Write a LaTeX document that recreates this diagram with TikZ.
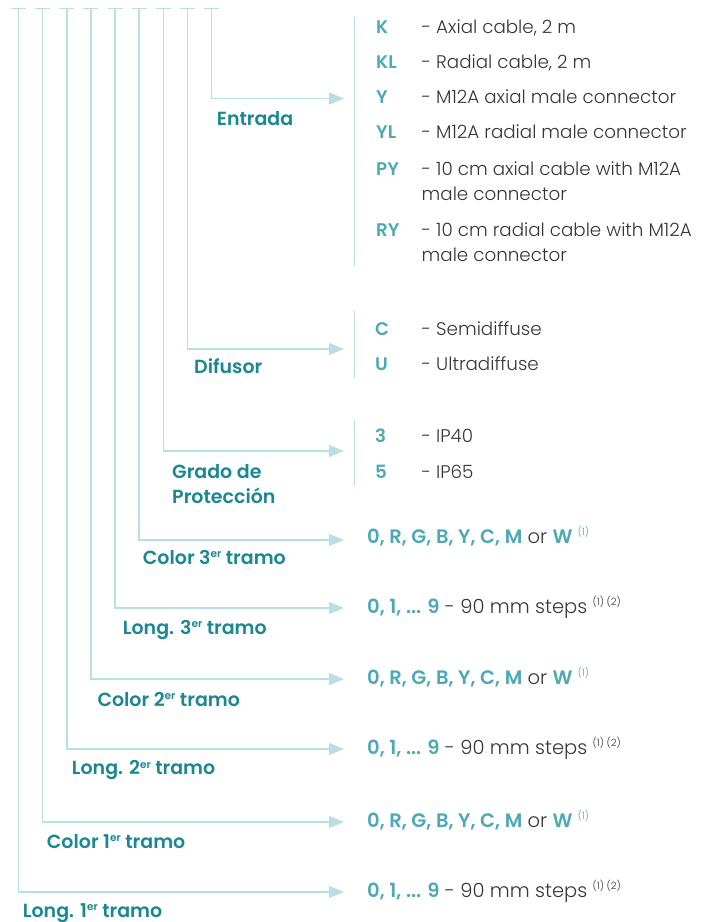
\documentclass[tikz,border=0pt]{standalone}
\usepackage{fontspec}
\setmainfont{Poppins Light}[BoldFont={Poppins SemiBold}]
\usetikzlibrary{arrows.meta,calc}
\definecolor{linecol}{HTML}{B7DFE4}
\definecolor{labelcol}{HTML}{1A8792}
\definecolor{codecol}{HTML}{4DA9B6}
\definecolor{textcol}{HTML}{363636}
\newcommand\ordsup[1]{\raisebox{6.5pt}{\fontsize{10.5}{10.5}\selectfont #1}}
\newcommand\notesup[1]{\raisebox{8pt}{\fontsize{10}{10}\selectfont #1}}
\newcommand\twolines[2]{\begin{tabular}[t]{@{}l@{}}#1\\#2\end{tabular}}

\begin{document}
\begin{tikzpicture}[x=1pt, y=-1pt,
  link/.style={draw=linecol, line width=1.3pt},
  linkarrow/.style={link, -{Triangle[length=15pt,width=12pt]}},
  lbl/.style={anchor=base west, inner sep=0pt, text=labelcol, font=\fontsize{19}{25}\selectfont\bfseries},
  code/.style={anchor=base west, inner sep=0pt, text=codecol, font=\fontsize{18.3}{25}\selectfont\bfseries},
  desc/.style={anchor=base west, inner sep=0pt, text=textcol, font=\fontsize{18.3}{25}\selectfont},
  opt/.style={anchor=base west, inner sep=0pt, text=textcol, font=\fontsize{19.5}{24}\selectfont}]
\useasboundingbox (0,0) rectangle (704,922);

% stems with their dash on top, one per field
\foreach \i/\y in {0/892,1/822,2/749,3/679,4/608,5/540,6/451,7/349,8/98.5} {
  \coordinate (top\i) at ({18.7+24.08*\i},8.7);
  \coordinate (tip\i) at (344,\y);
  \draw[link] ($(top\i)+(-7.5,0)$) -- ($(top\i)+(7.5,0)$);
  \draw[linkarrow] (top\i) |- (tip\i);
}

% field names
\node[lbl] (entrada) at (216.7,125.5) {Entrada};
\node[lbl] (difusor) at (194,373) {Difusor};
\node[lbl] (grado) at (172,478) {\twolines{Grado de}{Protección}};
\node[lbl] (color3) at (142.7,564) {Color 3\ordsup{er} tramo};
\node[lbl] (long3) at (122.7,634) {Long. 3\ordsup{er} tramo};
\node[lbl] (color2) at (97.3,706) {Color 2\ordsup{er} tramo};
\node[lbl] (long2) at (71.7,774.5) {Long. 2\ordsup{er} tramo};
\node[lbl] (color1) at (46.7,848) {Color 1\ordsup{er} tramo};
\node[lbl] (long1) at (22.7,917) {Long. 1\ordsup{er} tramo};

% option groups
\coordinate (bar1a) at (354,17);  \coordinate (bar1b) at (354,266);
\coordinate (bar2a) at (354,311); \coordinate (bar2b) at (354,378);
\coordinate (bar3a) at (354,421); \coordinate (bar3b) at (354,486);
\draw[link, line width=1pt] (bar1a) -- (bar1b);
\draw[link, line width=1pt] (bar2a) -- (bar2b);
\draw[link, line width=1pt] (bar3a) -- (bar3b);

\node[code] (k) at (376,33.3) {K};
\node[desc] (k-d) at (421.5,33.3) {- Axial cable, 2 m};
\node[code] (kl) at (376,68.3) {KL};
\node[desc] (kl-d) at (421.5,68.3) {- Radial cable, 2 m};
\node[code] (y) at (376,103.5) {Y};
\node[desc] (y-d) at (421.5,103.5) {- M12A axial male connector};
\node[code] (yl) at (376,138.5) {YL};
\node[desc] (yl-d) at (421.5,138.5) {- M12A radial male connector};
\node[code] (py) at (376,175) {PY};
\node[desc] (py-d) at (421.5,175) {\twolines{- 10 cm axial cable with M12A}{male connector}};
\node[code] (ry) at (376,236.7) {RY};
\node[desc] (ry-d) at (421.5,236.7) {\twolines{- 10 cm radial cable with M12A}{male connector}};

\node[code] (c) at (375,335) {C};
\node[desc] (c-d) at (421.5,335) {- Semidiffuse};
\node[code] (u) at (375,370.7) {U};
\node[desc] (u-d) at (421.5,370.7) {- Ultradiffuse};

\node[code] (ip3) at (375,442.7) {3};
\node[desc] (ip3-d) at (421.5,442.7) {- IP40};
\node[code] (ip5) at (375,478.3) {5};
\node[desc] (ip5-d) at (421.5,478.3) {- IP65};

% colour and length choices
\foreach \y/\n in {543/5,684/3,827/1} {
  \node[opt] (col\n) at (367,\y) {{\color{codecol}\bfseries 0, R, G, B, Y, C, M} or {\color{codecol}\bfseries W}~{\color{codecol}\notesup{(1)}}};
}
\foreach \y/\n in {613/4,754/2,897/0} {
  \node[opt] (len\n) at (367,\y) {{\color{codecol}\bfseries 0, 1, ... 9} - 90 mm steps~\notesup{(1)~(2)}};
}
\end{tikzpicture}
\end{document}
